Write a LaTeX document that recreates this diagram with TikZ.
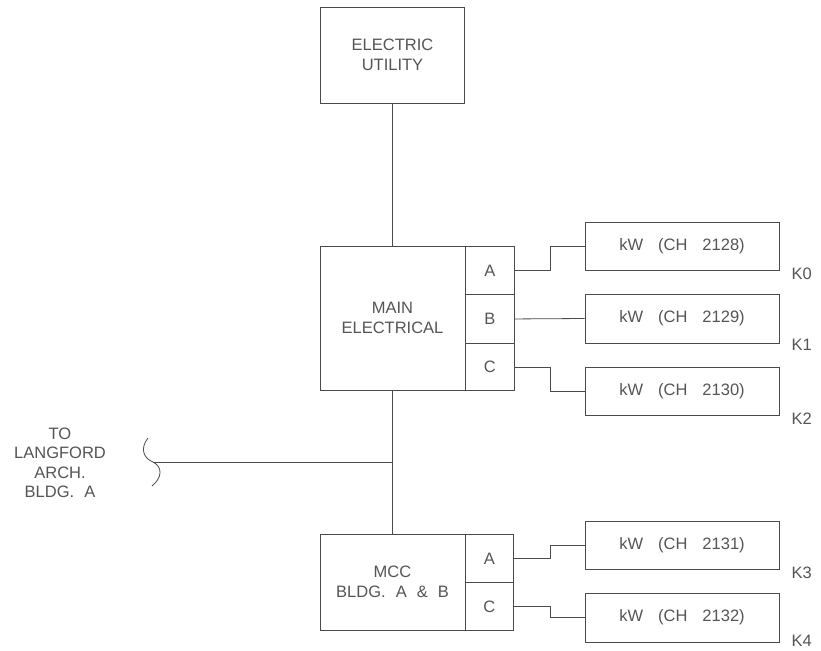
\documentclass[tikz,border=0pt]{standalone}
\usepackage{fontspec}
\setmainfont{Liberation Sans}
\definecolor{ln}{HTML}{4A4A4A}
\definecolor{tx}{HTML}{555555}
\begin{document}
\begin{tikzpicture}[x=1pt,y=-1pt,
  box/.style={draw=ln,line width=0.9pt,rectangle,inner sep=0pt,align=center,text=tx,
    font=\fontsize{16.5}{19.5}\selectfont},
  wire/.style={draw=ln,line width=0.8pt},
  bus/.style={draw=ln,line width=1.2pt},
  lab/.style={text=tx,inner sep=0pt,font=\fontsize{16.5}{19.5}\selectfont}]
\useasboundingbox[fill=white] (0,0) rectangle (821,650);
% utility
\node[box,minimum width=144pt,minimum height=96pt] (eu) at (392.5,55) {ELECTRIC\\UTILITY};
% main electrical
\node[box,minimum width=145pt,minimum height=144pt] (main) at (392.5,318) {MAIN\\ELECTRICAL};
\node[box,minimum width=49pt,minimum height=48pt,anchor=north west] (mA) at (465,246) {A};
\node[box,minimum width=49pt,minimum height=49pt,anchor=north west] (mB) at (465,294) {B};
\node[box,minimum width=49pt,minimum height=47pt,anchor=north west] (mC) at (465,343) {C};
% mcc
\node[box,minimum width=145pt,minimum height=96pt] (mcc) at (392.5,582) {MCC\\BLDG.\hspace{10pt}A\hspace{10pt}\&\hspace{10pt}B};
\node[box,minimum width=48pt,minimum height=48pt,anchor=north west] (cA) at (465,534) {A};
\node[box,minimum width=48pt,minimum height=48pt,anchor=north west] (cC) at (465,582) {C};
% kW meters
\node[box,minimum width=194pt,minimum height=48pt] (k0) at (682,246) {kW\hspace{15pt}(CH\hspace{15pt}2128)};
\node[box,minimum width=194pt,minimum height=49pt] (k1) at (682,318.5) {kW\hspace{15pt}(CH\hspace{15pt}2129)};
\node[box,minimum width=194pt,minimum height=48pt] (k2) at (682,391) {kW\hspace{15pt}(CH\hspace{15pt}2130)};
\node[box,minimum width=194pt,minimum height=48pt] (k3) at (682,545) {kW\hspace{15pt}(CH\hspace{15pt}2131)};
\node[box,minimum width=194pt,minimum height=49pt] (k4) at (682,617.5) {kW\hspace{15pt}(CH\hspace{15pt}2132)};
% K labels
\node[lab,anchor=west] (l0) at ([xshift=12pt,yshift=-3pt]k0.south east) {K0};
\node[lab,anchor=west] (l1) at ([xshift=12pt,yshift=-1pt]k1.south east) {K1};
\node[lab,anchor=west] (l2) at ([xshift=12pt,yshift=-3pt]k2.south east) {K2};
\node[lab,anchor=west] (l3) at ([xshift=12pt,yshift=-3pt]k3.south east) {K3};
\node[lab,anchor=west] (l4) at ([xshift=12pt,yshift=2pt]k4.south east) {K4};
% left label
\node[lab,align=center] (lang) at (60,463) {TO\\LANGFORD\\ARCH.\\BLDG.\hspace{10pt}A};
% bus
\draw[bus] (eu.south) -- (main.north);
\draw[bus] (main.south) -- (mcc.north);
\coordinate (j) at (392.5,462);
\coordinate (brT) at (148,438);
\coordinate (brM) at (153,462);
\coordinate (brB) at (152,486);
\draw[wire] (brT) .. controls (140,448) and (143,458) .. (brM) .. controls (163,467) and (162,478) .. (brB);
\draw[wire] (brM) -- (j);
% feeders
\draw[wire] (mA.east) -- ++(35,0) |- (k0.west);
\draw[wire] (mB.east) -- (k1.west);
\draw[wire] (mC.east) -- ++(35,0) |- (k2.west);
\draw[wire] (cA.east) -- ++(36,0) |- (k3.west);
\draw[wire] (cC.east) -- ++(36,0) |- (k4.west);
\end{tikzpicture}
\end{document}
